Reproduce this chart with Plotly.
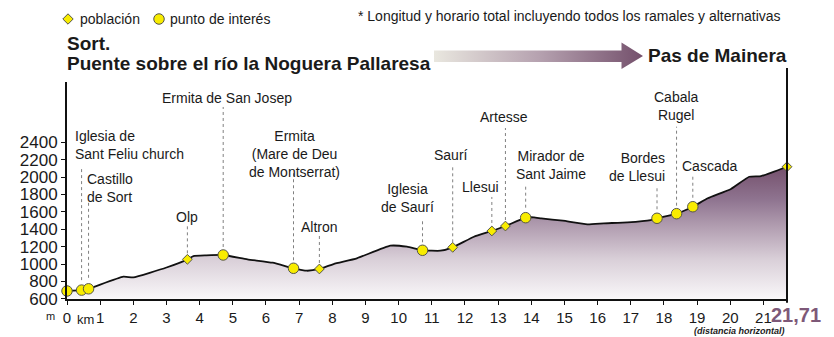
import plotly.graph_objects as go

W, H = 834, 337
FONT = "Liberation Sans, Arial, sans-serif"

# ---- data -----------------------------------------------------------------
# terrain samples between the named places (km, m)
terrain_km = [1.7, 2.0, 3.0, 3.81, 4.2, 5.44, 6.2, 7.23, 8.04, 8.74, 9.75,
              10.25, 11.26, 12.27, 14.08, 14.3, 14.95, 15.69, 16.19, 16.9,
              17.6, 19.32, 20.02, 20.57, 20.93]
terrain_alt = [854, 847, 960, 1092, 1100, 1054, 1015, 923, 1000, 1066, 1211,
               1199, 1153, 1314, 1537, 1525, 1498, 1457, 1468, 1480,
               1506, 1756, 1863, 2004, 2012]

# named places along the route
place_names = ["Sort", "Iglesia de<br>Sant Feliu church", "Castillo<br>de Sort",
               "Olp", "Ermita de San Josep", "Ermita<br>(Mare de Deu<br>de Montserrat)",
               "Altron", "Iglesia<br>de Saurí", "Saurí", "Llesui", "Artesse",
               "Mirador de<br>Sant Jaime", "Bordes<br>de Llesui", "Cabala<br>Rugel",
               "Cascada", "Pas de Mainera"]
place_km = [0, 0.44, 0.65, 3.63, 4.71, 6.83, 7.61, 10.72, 11.63, 12.81, 13.22,
            13.83, 17.79, 18.38, 18.87, 21.71]
place_alt = [690, 700, 715, 1054, 1104, 951, 943, 1158, 1192, 1380, 1437,
             1533, 1526, 1579, 1659, 2119]
# "poblacion" = village (diamond), "interes" = point of interest (circle)
place_kind = ["interes", "interes", "interes", "poblacion", "interes", "interes",
              "poblacion", "interes", "poblacion", "poblacion", "poblacion",
              "interes", "interes", "interes", "interes", "poblacion"]

y_ticks = [600, 800, 1000, 1200, 1400, 1600, 1800, 2000, 2200, 2400]
x_ticks = list(range(0, 22))

# ---- label placement (pixels relative to each marker) ---------------------
# name -> (xanchor, dx, text middle above marker, leader bottom, leader top)
label_layout = {
    "Iglesia de<br>Sant Feliu church": ("left", -9, 145, 10, 123),
    "Castillo<br>de Sort": ("left", -4, 101, 11, 86),
    "Olp": ("center", 0, 42, 6, 34),
    "Ermita de San Josep": ("center", 4, 157, 8, 148),
    "Ermita<br>(Mare de Deu<br>de Montserrat)": ("center", 0.5, 114, 8, 95),
    "Altron": ("center", 0, 42, 6, 34),
    "Iglesia<br>de Saurí": ("center", -15.5, 52, 8, 32),
    "Saurí": ("center", -1.5, 92, 5, 82),
    "Llesui": ("center", -11, 44, 8, 34),
    "Artesse": ("center", -1.5, 109, 6, 98),
    "Mirador de<br>Sant Jaime": ("center", 25.5, 53, 10, 33),
    "Bordes<br>de Llesui": ("right", 9.5, 51, 9, 31),
    "Cabala<br>Rugel": ("center", -0.5, 108, 8, 87),
    "Cascada": ("center", 17, 41, 9, 32),
}

# merged profile
pairs = sorted(zip(terrain_km + place_km, terrain_alt + place_alt))
profile_km = [p[0] for p in pairs]
profile_alt = [p[1] for p in pairs]
total_km = place_km[-1]

# plot-area geometry (pixels)
PX_L, PX_R, PX_T, PX_B = 67, 787, 82, 298.8
M_PER_PX = 1800 / 156.5
y_top = 600 + (PX_B - PX_T) * M_PER_PX

YELLOW = "#f8ec00"
EDGE = "#55554a"
PURPLE = "#74506c"

fig = go.Figure()

# elevation profile with vertical gradient
fig.add_trace(go.Scatter(
    x=profile_km, y=profile_alt, mode="lines", fill="tozeroy",
    fillgradient=dict(type="vertical",
                      colorscale=[[0, "#f9f7f9"], [0.3, "#d9cfd8"], [0.55, "#b19db0"],
                                  [0.75, "#8f7490"], [1, PURPLE]],
                      start=600, stop=max(profile_alt)),
    line=dict(color="#111111", width=1.8, shape="spline", smoothing=0.4),
    hoverinfo="skip", showlegend=False,
))

# place markers
for kind, sym, size in [("interes", "circle", 10.5), ("poblacion", "diamond", 7.5)]:
    xs = [k for k, t in zip(place_km, place_kind) if t == kind]
    ys = [a for a, t in zip(place_alt, place_kind) if t == kind]
    fig.add_trace(go.Scatter(
        x=xs, y=ys, mode="markers", cliponaxis=False, showlegend=False,
        marker=dict(symbol=sym, size=size, color=YELLOW,
                    line=dict(color=EDGE, width=1)),
    ))

shapes = []
annotations = []

# labels and dotted leaders
for name, km, alt in zip(place_names, place_km, place_alt):
    if name not in label_layout:
        continue
    xa, dx, mid, lo, hi = label_layout[name]
    annotations.append(dict(
        x=km, y=alt, xref="x", yref="y", text=name, showarrow=False,
        xanchor=xa, yanchor="middle", xshift=dx, yshift=mid, align=xa,
        font=dict(family=FONT, size=14, color="#1a1a1a"),
    ))
    shapes.append(dict(
        type="line", xref="x", yref="y", x0=km, x1=km,
        ysizemode="pixel", yanchor=alt, y0=lo, y1=hi,
        line=dict(color="#808080", width=1, dash="dot"),
    ))

# right-hand end line
shapes.append(dict(type="line", xref="paper", yref="paper",
                   x0=PX_R / W, x1=PX_R / W,
                   y0=(H - PX_B - 4) / H, y1=(H - 68) / H,
                   line=dict(color="#111111", width=2)))

# ---- decorations on a pixel-space overlay -------------------------------
# direction arrow with horizontal gradient
arrow_x = [434, 621.5, 621.5, 643, 621.5, 621.5, 434, 434]
arrow_y = [50.5, 50.5, 42.5, 56, 69, 62, 62, 50.5]
fig.add_trace(go.Scatter(
    x=arrow_x, y=arrow_y, xaxis="x2", yaxis="y2", mode="lines", fill="toself",
    fillgradient=dict(type="horizontal",
                      colorscale=[[0, "#e9e7df"], [0.5, "#b6a2b0"], [1, PURPLE]]),
    line=dict(color="rgba(0,0,0,0)", width=0), hoverinfo="skip", showlegend=False,
))

# legend symbols
fig.add_trace(go.Scatter(
    x=[68], y=[19], xaxis="x2", yaxis="y2", mode="markers", showlegend=False,
    marker=dict(symbol="diamond", size=8, color=YELLOW, line=dict(color=EDGE, width=1)),
))
fig.add_trace(go.Scatter(
    x=[159], y=[19], xaxis="x2", yaxis="y2", mode="markers", showlegend=False,
    marker=dict(symbol="circle", size=10.5, color=YELLOW, line=dict(color=EDGE, width=1)),
))


def pix_text(x, y, text, size, xanchor="left", yanchor="middle",
             bold=False, italic=False, color="#1a1a1a", pad=1):
    if bold:
        text = f"<b>{text}</b>"
    if italic:
        text = f"<i>{text}</i>"
    annotations.append(dict(
        x=x, y=y, xref="x2", yref="y2", text=text, showarrow=False,
        xanchor=xanchor, yanchor=yanchor, borderpad=pad,
        font=dict(family=FONT, size=size, color=color),
    ))


pix_text(78, 19, "población", 14)
pix_text(168, 19, "punto de interés", 14)
pix_text(783, 16, "* Longitud y horario total incluyendo todos los ramales y alternativas",
         14, xanchor="right")
pix_text(65, 43, "Sort.", 19, bold=True)
pix_text(65, 63, "Puente sobre el río la Noguera Pallaresa", 19, bold=True)
pix_text(789, 55, "Pas de Mainera", 19, xanchor="right", bold=True)
pix_text(769, 315, f"{total_km:.2f}".replace(".", ","), 20, bold=True, color="#7d5878")
pix_text(739, 337, "(distancia horizontal)", 9, xanchor="center", yanchor="bottom",
         bold=True, italic=True, pad=0)
pix_text(75, 319, "km", 13)
pix_text(50, 316, "m", 11, xanchor="center")

fig.update_layout(
    template="none",
    width=W, height=H, autosize=False,
    margin=dict(l=0, r=0, t=0, b=0, pad=0),
    paper_bgcolor="white", plot_bgcolor="rgba(0,0,0,0)",
    font=dict(family=FONT, color="#1a1a1a"),
    xaxis=dict(domain=[PX_L / W, PX_R / W], range=[0, total_km],
               showgrid=False, zeroline=False, showline=True, automargin=False,
               linecolor="#111111", linewidth=2,
               ticks="outside", ticklen=4, tickwidth=1, tickcolor="#111111",
               tickvals=x_ticks, ticktext=[str(t) for t in x_ticks],
               ticklabelstandoff=0,
               tickfont=dict(size=15, family=FONT, color="#1a1a1a"),
               fixedrange=True, anchor="y"),
    yaxis=dict(domain=[(H - PX_B) / H, (H - PX_T) / H], range=[600, y_top],
               showgrid=False, zeroline=False, showline=True, automargin=False,
               linecolor="#111111", linewidth=2,
               ticks="outside", ticklen=4, tickwidth=1, tickcolor="#111111",
               tickvals=y_ticks, ticktext=[str(t) for t in y_ticks],
               tickfont=dict(size=17, family=FONT, color="#1a1a1a"),
               fixedrange=True, anchor="x"),
    xaxis2=dict(domain=[0, 1], range=[0, W], visible=False, fixedrange=True,
                automargin=False, anchor="y2"),
    yaxis2=dict(domain=[0, 1], range=[H, 0], visible=False, fixedrange=True,
                automargin=False, anchor="x2"),
    shapes=shapes,
    annotations=annotations,
    showlegend=False,
)

fig.write_html("out.html")
